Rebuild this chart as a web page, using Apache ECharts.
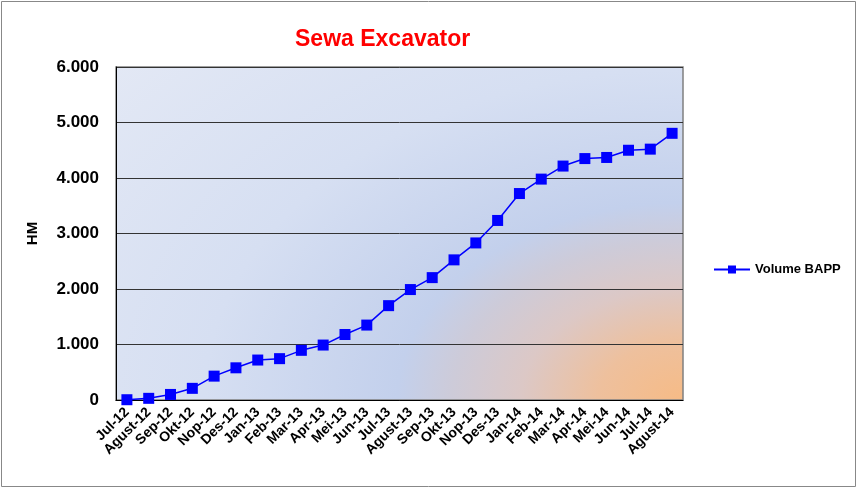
<!DOCTYPE html>
<html><head><meta charset="utf-8">
<script src="https://cdn.jsdelivr.net/npm/echarts@6/dist/echarts.min.js"></script>
<style>html,body{margin:0;padding:0;background:#fff}#c{width:858px;height:489px}</style>
</head><body><div id="c"></div>
<script>
const categories = ['Jul-12','Agust-12','Sep-12','Okt-12','Nop-12','Des-12','Jan-13','Feb-13','Mar-13','Apr-13','Mei-13','Jun-13','Jul-13','Agust-13','Sep-13','Okt-13','Nop-13','Des-13','Jan-14','Feb-14','Mar-14','Apr-14','Mei-14','Jun-14','Jul-14','Agust-14'];
const volumeBAPP = [5,30,100,210,430,580,720,745,895,990,1180,1350,1700,1990,2205,2525,2830,3235,3720,3980,4215,4350,4370,4500,4520,4805];
const seriesName = 'Volume BAPP';
const titleText = 'Sewa Excavator';
const yName = 'HM';

const G = {left:116, top:67, width:567, height:333};
const sx = 1.45;
const chart = echarts.init(document.getElementById('c'), null, {renderer:'canvas'});
const fmt = v => v === 0 ? '0' : (v/1000).toFixed(3);
const font = 'Liberation Sans, Arial';
chart.setOption({
  animation:false,
  backgroundColor:'#fff',
  graphic:[
    {type:'rect',shape:{x:1.5,y:1.5,width:854,height:485},style:{fill:'none',stroke:'#888',lineWidth:1},z:-20},
    {type:'rect',x:G.left,y:G.top,scaleX:sx,scaleY:1,shape:{x:0,y:0,width:G.width/sx,height:G.height},z:-10,silent:true,
     style:{fill:{type:'radial',x:1,y:1,r:1.6,colorStops:[
       {offset:0,color:'#f6bb86'},{offset:0.11,color:'#eec09d'},{offset:0.21,color:'#dcc8c6'},
       {offset:0.30,color:'#cdcbd9'},{offset:0.37,color:'#c3d0ec'},{offset:0.62,color:'#d6dff2'},{offset:1,color:'#e4e9f5'}]}}}
  ],
  title:{text:titleText,left:290,top:23,textStyle:{color:'#ff0000',fontFamily:font,fontWeight:'bold',fontSize:23}},
  legend:{show:true,left:708,top:258,itemWidth:36,itemHeight:10,itemGap:6,
    textStyle:{fontFamily:font,fontWeight:'bold',fontSize:13,color:'#000'},data:[seriesName]},
  grid:{left:G.left,top:G.top,right:858-G.left-G.width,bottom:489-G.top-G.height,show:true,borderColor:'#808080',borderWidth:1.5,backgroundColor:'transparent'},
  xAxis:{type:'category',data:categories,boundaryGap:true,
    axisLine:{lineStyle:{color:'#000',width:1}},axisTick:{show:false},
    axisLabel:{rotate:45,interval:0,margin:10,fontFamily:font,fontWeight:'bold',fontSize:14,color:'#000'}},
  yAxis:{type:'value',min:0,max:6000,interval:1000,name:yName,nameLocation:'middle',nameRotate:90,nameGap:76,
    nameTextStyle:{fontFamily:font,fontWeight:'bold',fontSize:15,color:'#000'},
    axisLine:{show:true,lineStyle:{color:'#000'}},axisTick:{show:false},
    splitLine:{lineStyle:{color:'#333',width:1}},
    axisLabel:{formatter:fmt,margin:17,fontFamily:font,fontWeight:'bold',fontSize:17,color:'#000'}},
  series:[{name:seriesName,type:'line',data:volumeBAPP,symbol:'rect',symbolSize:11,
    lineStyle:{color:'#0000ff',width:1.5},itemStyle:{color:'#0000ff'}}]
});
</script></body></html>
